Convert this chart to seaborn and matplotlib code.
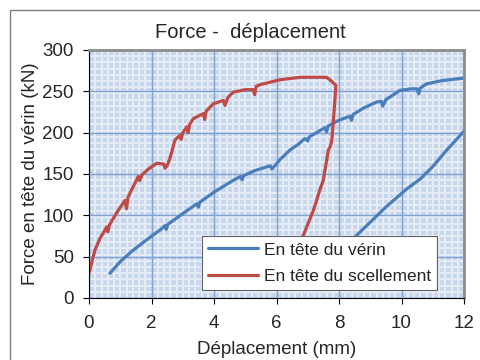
import numpy as np
import pandas as pd
import matplotlib
matplotlib.use("Agg")
import matplotlib.pyplot as plt
from matplotlib.ticker import MultipleLocator
from matplotlib.patches import Rectangle
from matplotlib.lines import Line2D
import seaborn as sns

# ---- data ----
verin_x1 = [0.67, 1.0, 1.42, 1.9, 2.3, 2.45, 2.47, 2.52, 3.0, 3.45, 3.5, 3.55, 4.0, 4.3, 4.6, 4.85,
            4.9, 4.95, 5.3, 5.8, 5.85, 5.95, 6.1, 6.43, 6.7, 6.91, 7.0, 7.05, 7.55, 7.6, 7.65, 8.0,
            8.35, 8.4, 8.45, 8.8, 9.2, 9.35, 9.4, 9.5, 9.95, 10.3, 10.5, 10.55, 10.6, 10.8, 11.3,
            12.0, 12.3]
verin_y1 = [30, 44, 58, 72, 83, 88, 83, 89, 102, 114, 110, 116, 128, 135, 142, 147,
            143, 148, 154, 160, 156, 160, 167, 179, 186, 193, 190, 195, 206, 201, 208, 215,
            220, 215, 222, 230, 237, 238, 232, 240, 251, 253, 253, 247, 254, 259, 263,
            266, 268]
verin_x2 = [7.6, 8.57, 9.5, 10.17, 10.6, 11.0, 11.45, 12.03, 12.3]
verin_y2 = [40, 76, 110, 132, 144, 159, 179, 203, 213]

scel_x = [0.0, 0.1, 0.19, 0.35, 0.57, 0.6, 0.65, 0.9, 1.15, 1.2, 1.25, 1.47, 1.58, 1.62, 1.7, 1.9,
          2.17, 2.4, 2.43, 2.5, 2.59, 2.65, 2.75, 2.91, 2.95, 3.0, 3.13, 3.17, 3.22, 3.34, 3.66,
          3.7, 3.75, 3.98, 4.3, 4.35, 4.45, 4.62, 5.0, 5.26, 5.3, 5.35, 5.47, 6.11, 6.75, 7.6,
          7.77, 7.9, 7.85, 7.82, 7.77, 7.72, 7.66, 7.5, 7.39, 7.18, 6.86, 6.6]
scel_y = [30, 45, 58, 72, 86, 80, 88, 104, 118, 108, 122, 139, 147, 142, 149, 156,
          163, 162, 157, 160, 169, 177, 191, 197, 192, 200, 207, 200, 210, 217, 223,
          216, 226, 235, 239, 233, 243, 249, 252, 252, 246, 256, 258, 264, 267, 267,
          262, 257, 230, 215, 191, 183, 179, 143, 131, 106, 76, 50]

x_ticks = [0, 2, 4, 6, 8, 10, 12]
y_ticks = [0, 50, 100, 150, 200, 250, 300]

label_verin = "En tête du vérin"
label_scel = "En tête du scellement"
title = "Force -  déplacement"
xlabel = "Déplacement (mm)"
ylabel = "Force en tête du vérin (kN)"

df = pd.concat([
    pd.DataFrame({"x": verin_x1, "y": verin_y1, "serie": label_verin, "seg": 0}),
    pd.DataFrame({"x": scel_x, "y": scel_y, "serie": label_scel, "seg": 1}),
    pd.DataFrame({"x": verin_x2, "y": verin_y2, "serie": label_verin, "seg": 2}),
], ignore_index=True)

sns.set_style("white")
plt.rcParams["font.family"] = ["Liberation Sans", "DejaVu Sans"]

fig = plt.figure(figsize=(4.8, 3.6), dpi=100)
ax = fig.add_axes([89/480, 1-298/360, 375/480, 248/360])

ax.set_facecolor("#c8d7ec")
ax.xaxis.set_minor_locator(MultipleLocator(0.2))
ax.yaxis.set_minor_locator(MultipleLocator(7.5))
ax.grid(which="minor", color="#e6edf7", lw=1.4, zorder=0)
ax.grid(which="major", visible=False)
for xv in x_ticks:
    ax.axvline(xv, color="#7fa2d2", lw=1.0, zorder=0.8)
for yv in y_ticks:
    ax.axhline(yv, color="#7fa2d2", lw=1.0, zorder=0.8)
ax.set_axisbelow(True)

palette = {label_verin: "#4a7ebb", label_scel: "#be4b48"}
sns.lineplot(data=df, x="x", y="y", hue="serie", units="seg", estimator=None,
             sort=False, palette=palette, lw=2.3, ax=ax, legend=False, zorder=2)

ax.set_xlim(0, 12)
ax.set_ylim(0, 300)
ax.set_xticks(x_ticks)
ax.set_yticks(y_ticks)
ax.tick_params(which="major", direction="out", length=4, width=0.8, color="black",
               labelsize=13.5, left=True, bottom=True)
ax.tick_params(axis="x", which="major", pad=8)
ax.tick_params(axis="y", which="major", pad=7)
ax.tick_params(which="minor", length=0)
for s in ["left", "bottom"]:
    ax.spines[s].set_color("black")
    ax.spines[s].set_linewidth(0.8)
for s in ["top", "right"]:
    ax.spines[s].set_color("#8c8c8c")
    ax.spines[s].set_linewidth(2.0)

ax.set_xlabel(xlabel, fontsize=13.5, labelpad=7)
ax.set_ylabel(ylabel, fontsize=13.5, labelpad=2)
fig.text(250/480, 1-33/360, title, ha="center", va="center", fontsize=14.5)

handles = [Line2D([], [], color=palette[label_verin], lw=2.3),
           Line2D([], [], color=palette[label_scel], lw=2.3)]
leg = ax.legend(handles, [label_verin, label_scel], loc="lower left",
                bbox_to_anchor=(0.301, 0.032), fontsize=12.5, frameon=True, fancybox=False,
                framealpha=1, edgecolor="#606060", handlelength=2.9, handletextpad=0.3,
                labelspacing=0.65, borderpad=0.35, borderaxespad=0)
leg.get_frame().set_linewidth(0.8)
leg.set_zorder(5)

fig.patches.append(Rectangle((10/480, -0.1), 1.0, 1-10/360+0.1, transform=fig.transFigure,
                             fill=False, edgecolor="#7f7f7f", lw=1.0))

fig.savefig("out.png", dpi=100)
